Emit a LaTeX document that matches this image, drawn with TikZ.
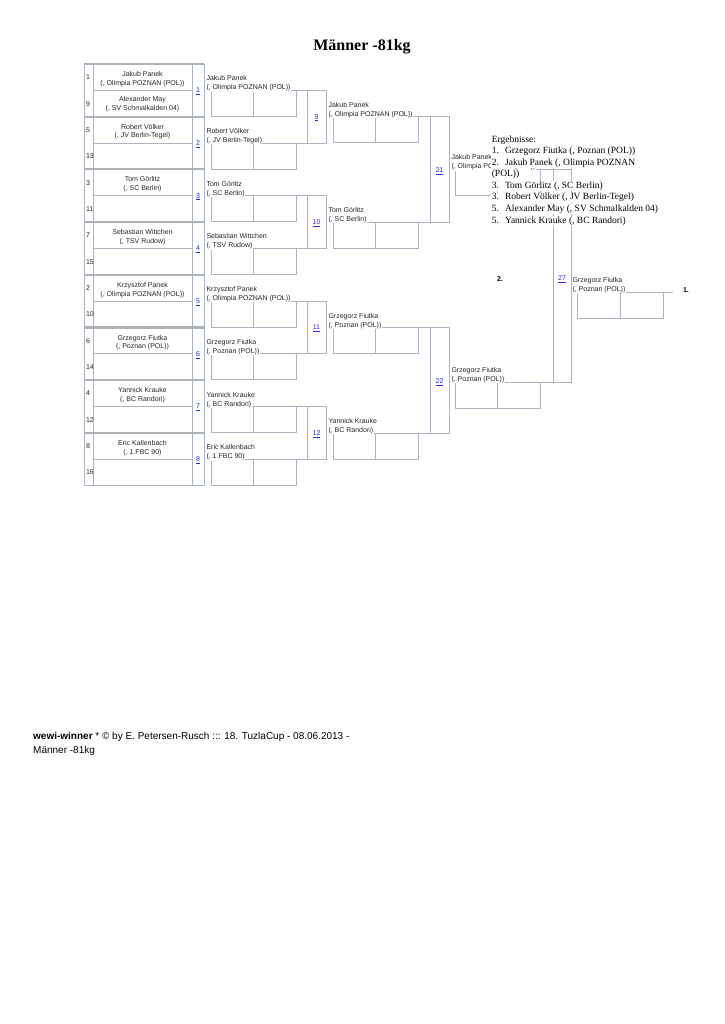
\documentclass[tikz,border=0pt]{standalone}
\usepackage{fontspec}
\setmainfont{Liberation Serif}
\setsansfont{Liberation Sans}
\definecolor{lc}{RGB}{172,180,196}
\definecolor{tc}{RGB}{176,178,186}
\definecolor{lnk}{RGB}{40,40,225}
\tikzset{
  ln/.style={draw=lc,line width=0.8pt},
  thk/.style={draw=tc,line width=2.2pt},
  sm/.style={font=\sffamily\fontsize{7}{8}\selectfont,inner sep=0.3pt,text=black!85},
  smw/.style={sm,fill=white},
  mnum/.style={font=\sffamily\fontsize{7}{8}\selectfont,inner sep=0pt,text=lnk},
  res/.style={font=\fontsize{9.5}{11.5}\selectfont,inner sep=0.6pt,fill=white,anchor=base west},
  plc/.style={font=\sffamily\bfseries\fontsize{7}{8}\selectfont,inner sep=0pt},
}
\newcommand\roneblk[7]{%
  \pgfmathsetmacro\bT{64+52.7*#1}%
  \pgfmathsetmacro\bM{\bT+26.35}%
  \pgfmathsetmacro\bB{\bT+52.7}%
  \pgfmathtruncatemacro\bN{#1+1}%
  \draw[ln] (84,\bT) rectangle (204,\bB);
  \draw[ln] (93,\bT) -- (93,\bB) (192,\bT) -- (192,\bB) (93,\bM) -- (192,\bM);
  \draw[thk] (84,\bT) -- (204,\bT);
  \node[sm,anchor=base west] (sa#1) at (85.5,\bT+15.7) {#2};
  \node[sm,anchor=base west] (sb#1) at (85.5,\bM+15.7) {#5};
  \node[sm,anchor=base] (na#1) at (142.5,\bT+12.5) {#3};
  \node[sm,anchor=base] (ca#1) at (142.5,\bT+21.3) {#4};
  \node[sm,anchor=base] (nb#1) at (142.5,\bM+11.5) {#6};
  \node[sm,anchor=base] (cb#1) at (142.5,\bM+20.0) {#7};
  \node[mnum] (m#1) at (198,\bM+1) {\underline{\bN}};
  \draw[ln] (206,\bM) -- (326,\bM);
  \draw[ln] (211,\bM) rectangle (296,\bM+26) (253,\bM) -- (253,\bM+26);
  \node[smw,anchor=base west] (wn#1) at (206,\bM-9.5) {#3};
  \node[smw,anchor=base west] (wc#1) at (206,\bM-0.5) {#4};
}
\newcommand\slotbox[7]{% id, y, xline-start, xline-end, box-left, box-right, divider
  \draw[ln] (#3,#2) -- (#4,#2);
  \draw[ln] (#5,#2) rectangle (#6,#2+26) (#7,#2) -- (#7,#2+26);
}
\begin{document}
\begin{tikzpicture}[x=1pt,y=-1pt]
\useasboundingbox (0,0) rectangle (724,1024);
\node[font=\bfseries\fontsize{16}{18}\selectfont,anchor=base,inner sep=0pt] (title) at (362,50.5) {Männer -81kg};

\roneblk{0}{1}{Jakub Panek}{(, Olimpia POZNAN (POL))}{9}{Alexander May}{(, SV Schmalkalden 04)}
\roneblk{1}{5}{Robert Völker}{(, JV Berlin-Tegel)}{13}{}{}
\roneblk{2}{3}{Tom Görlitz}{(, SC Berlin)}{11}{}{}
\roneblk{3}{7}{Sebastian Wittchen}{(, TSV Rudow)}{15}{}{}
\roneblk{4}{2}{Krzysztof Panek}{(, Olimpia POZNAN (POL))}{10}{}{}
\roneblk{5}{6}{Grzegorz Fiutka}{(, Poznan (POL))}{14}{}{}
\roneblk{6}{4}{Yannick Krauke}{(, BC Randori)}{12}{}{}
\roneblk{7}{8}{Eric Kallenbach}{(, 1.FBC 90)}{16}{}{}

% round 2 columns
\draw[ln] (307,90.35) rectangle (326,143.05);
\draw[ln] (307,195.75) rectangle (326,248.45);
\draw[ln] (307,301.15) rectangle (326,353.85);
\draw[ln] (307,406.55) rectangle (326,459.25);
\node[mnum] (m9) at (316.5,117.7) {\underline{9}};
\node[mnum] (m10) at (316.5,223.1) {\underline{10}};
\node[mnum] (m11) at (316.5,328.5) {\underline{11}};
\node[mnum] (m12) at (316.5,433.9) {\underline{12}};

% round 3
\slotbox{a}{116.7}{328}{449}{333}{418}{375}
\slotbox{b}{222.1}{328}{449}{333}{418}{375}
\slotbox{c}{327.5}{328}{449}{333}{418}{375}
\slotbox{d}{432.9}{328}{449}{333}{418}{375}
\node[smw,anchor=base west] (t3n0) at (328,107.2) {Jakub Panek};
\node[smw,anchor=base west] (t3c0) at (328,116.2) {(, Olimpia POZNAN (POL))};
\node[smw,anchor=base west] (t3n1) at (328,212.6) {Tom Görlitz};
\node[smw,anchor=base west] (t3c1) at (328,221.6) {(, SC Berlin)};
\node[smw,anchor=base west] (t3n2) at (328,318.0) {Grzegorz Fiutka};
\node[smw,anchor=base west] (t3c2) at (328,327.0) {(, Poznan (POL))};
\node[smw,anchor=base west] (t3n3) at (328,423.4) {Yannick Krauke};
\node[smw,anchor=base west] (t3c3) at (328,432.4) {(, BC Randori)};

% round 3 columns
\draw[ln] (430,116.7) rectangle (449,222.1);
\draw[ln] (430,327.5) rectangle (449,432.9);
\node[mnum] (m21) at (439.5,171.4) {\underline{21}};
\node[mnum] (m22) at (439.5,382.2) {\underline{22}};

% round 4
\slotbox{e}{169.4}{451}{571}{455}{540}{497}
\slotbox{f}{382}{451}{571}{455}{540}{497}
\node[smw,anchor=base west] (t4n0) at (451,159.9) {Jakub Panek};
\node[smw,anchor=base west] (t4c0) at (451,168.9) {(, Olimpia POZNAN (POL))};
\node[smw,anchor=base west] (t4n1) at (451,372.5) {Grzegorz Fiutka};
\node[smw,anchor=base west] (t4c1) at (451,381.5) {(, Poznan (POL))};

% final
\draw[ln] (553,169.4) rectangle (571,382);
\node[mnum] (m27) at (562,279) {\underline{27}};
\slotbox{g}{292}{572}{673}{577}{663}{620}
\node[smw,anchor=base west] (t5n) at (572,282.5) {Grzegorz Fiutka};
\node[smw,anchor=base west] (t5c) at (572,291.5) {(, Poznan (POL))};
\node[plc] (p2) at (500,279) {2.};
\node[plc] (p1) at (686,290) {1.};

% results
\node[res] (rs0) at (491,142.5) {Ergebnisse:};
\node[res] (rs1) at (491,154) {1.\hspace{3pt} Grzegorz Fiutka (, Poznan (POL))};
\node[res] (rs2) at (491,165.5) {2.\hspace{3pt} Jakub Panek (, Olimpia POZNAN};
\node[res] (rs3) at (491,177) {(POL))};
\node[res] (rs4) at (491,188.5) {3.\hspace{3pt} Tom Görlitz (, SC Berlin)};
\node[res] (rs5) at (491,200) {3.\hspace{3pt} Robert Völker (, JV Berlin-Tegel)};
\node[res] (rs6) at (491,211.5) {5.\hspace{3pt} Alexander May (, SV Schmalkalden 04)};
\node[res] (rs7) at (491,223) {5.\hspace{3pt} Yannick Krauke (, BC Randori)};

% footer
\node[font=\sffamily\fontsize{10}{13}\selectfont,anchor=base west,inner sep=0pt] (f1) at (33,739.5) {\textbf{wewi-winner} * © by E. Petersen-Rusch ::: 18. TuzlaCup - 08.06.2013 -};
\node[font=\sffamily\fontsize{10}{13}\selectfont,anchor=base west,inner sep=0pt] (f2) at (33,753) {Männer -81kg};
\end{tikzpicture}
\end{document}
